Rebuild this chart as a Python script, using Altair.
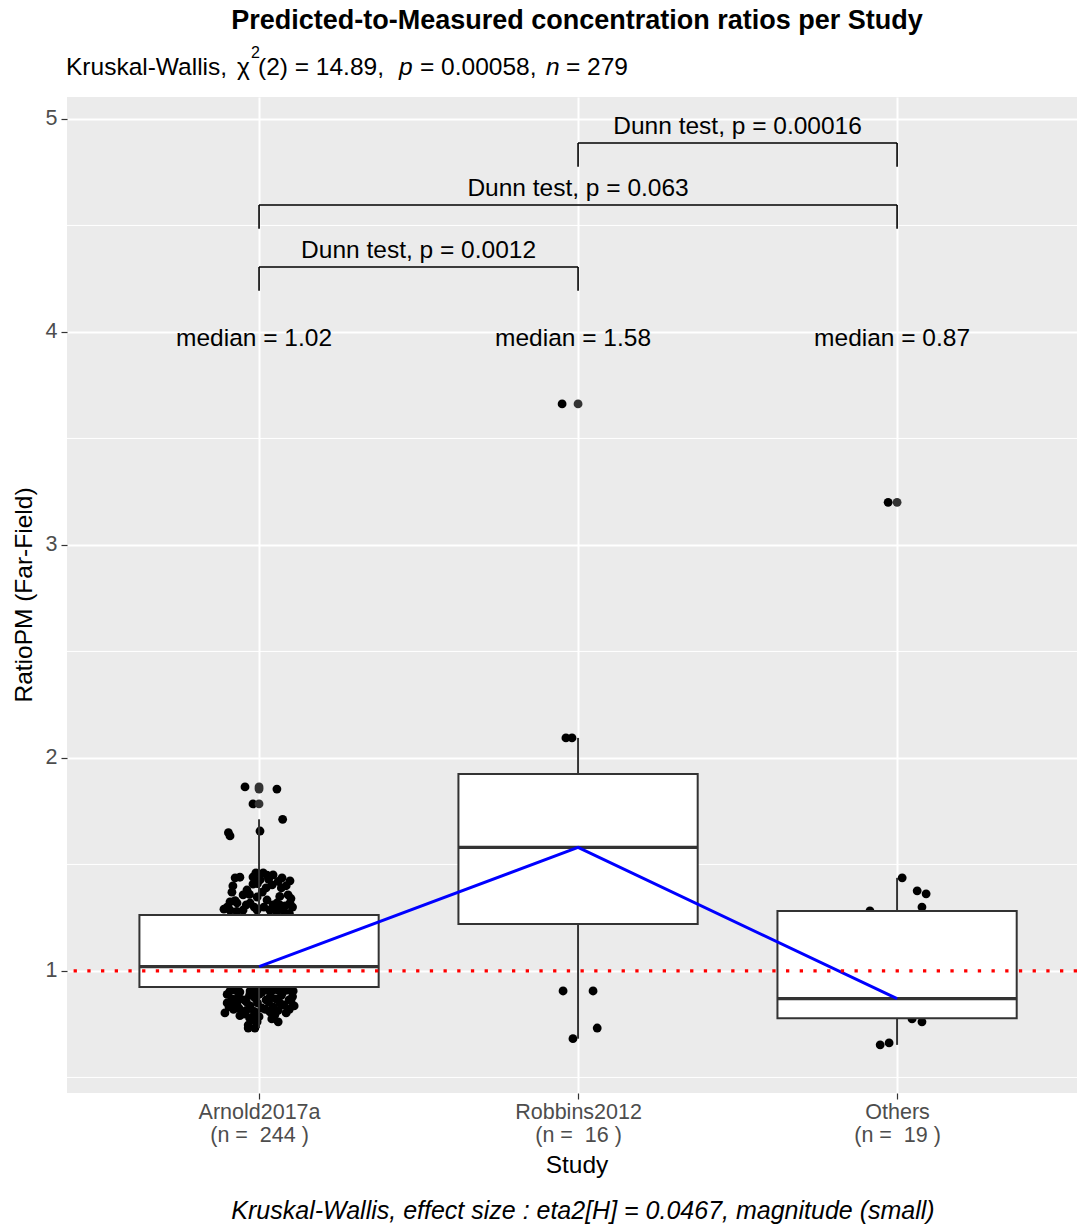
import altair as alt
import pandas as pd

# ---------------- data ----------------
studies = ["Arnold2017a", "Robbins2012", "Others"]
counts = [244, 16, 19]
medians = [1.02, 1.58, 0.87]
q1 = [0.925, 1.221, 0.778]
q3 = [1.263, 1.925, 1.282]
whisker_low = [0.732, 0.682, 0.653]
whisker_high = [1.712, 2.094, 1.437]

outlier_group = [1, 1, 1, 2, 3]
outlier_value = [1.864, 1.854, 1.784, 3.662, 3.200]

arnold_values = [1.864, 1.854, 1.784, 1.712, 1.657, 1.649, 1.634,
                 1.437, 1.399, 1.441, 1.460, 1.451, 1.437, 1.423, 1.427, 1.404, 1.408,
                 1.357, 1.324, 1.319, 1.319, 1.333, 1.319, 1.357, 1.319, 1.286, 1.286,
                 1.286, 1.286, 1.286, 1.347, 1.305, 1.310, 1.380, 1.390,
                 1.44, 1.45, 1.42, 1.40, 1.37, 1.36, 1.37, 1.35, 1.34, 1.33, 1.30, 1.31,
                 1.30, 1.30, 1.31, 1.30, 1.28, 1.28, 1.27, 1.29, 1.39, 1.41, 1.43, 1.46,
                 0.906, 0.901, 0.906, 0.901, 0.906, 0.901, 0.906, 0.869, 0.864, 0.873,
                 0.864, 0.869, 0.864, 0.831, 0.826, 0.836, 0.826, 0.831, 0.840, 0.836,
                 0.803, 0.798, 0.789, 0.808, 0.803, 0.761, 0.746, 0.761, 0.732, 0.732,
                 0.91, 0.91, 0.91, 0.91, 0.91, 0.89, 0.88, 0.885, 0.89, 0.88, 0.885, 0.88,
                 0.85, 0.85, 0.855, 0.85, 0.855, 0.85, 0.86, 0.82, 0.815, 0.81, 0.82, 0.815,
                 0.82, 0.79, 0.78, 0.785, 0.795, 0.77, 0.775, 0.845, 0.92,
                 0.95, 1.00, 1.05, 1.10, 1.15, 1.20, 0.98, 1.12]
arnold_jitter = [-0.044, 0.056, -0.019, 0.074, 0.003, -0.096, -0.091,
                 -0.075, -0.082, -0.019, 0.013, 0.044, 0.072, 0.097, 0.003, 0.041, -0.019,
                 -0.050, -0.091, -0.069, -0.028, 0.025, 0.056, 0.091, 0.097, -0.091, -0.050,
                 -0.006, 0.034, 0.075, -0.006, 0.082, 0.044, -0.038, 0.022,
                 -0.060, 0.025, 0.060, 0.085, -0.085, -0.030, 0.010, 0.065, 0.100, -0.075,
                 -0.100, -0.040, -0.015, 0.015, 0.065, 0.105, -0.070, 0.055, 0.095, -0.110,
                 0.070, -0.005, 0.030, -0.010,
                 -0.091, -0.060, -0.028, 0.009, 0.041, 0.075, 0.107, -0.085, -0.047, -0.013,
                 0.022, 0.053, 0.094, -0.094, -0.063, -0.028, 0.009, 0.044, 0.078, 0.110,
                 -0.107, -0.047, -0.016, 0.034, 0.085, 0.060, -0.034, -0.006, -0.034, -0.013,
                 -0.075, -0.010, 0.025, 0.060, 0.090, -0.100, -0.065, -0.030, 0.000, 0.035,
                 0.070, 0.105, -0.100, -0.070, -0.040, -0.005, 0.030, 0.065, 0.100, -0.080,
                 -0.040, -0.015, 0.020, 0.060, 0.095, -0.060, -0.030, 0.000, 0.050, -0.020,
                 0.040, -0.085, 0.040,
                 -0.05, 0.03, -0.08, 0.06, -0.02, 0.09, 0.10, -0.10]

robbins_values = [3.662, 2.094, 2.094, 0.906, 0.906, 0.732, 0.682,
                  1.25, 1.35, 1.45, 1.58, 1.62, 1.75, 1.85, 1.90, 1.30]
robbins_jitter = [-0.050, -0.038, -0.019, -0.047, 0.047, 0.060, -0.016,
                  0.02, -0.06, 0.08, -0.03, 0.05, -0.09, 0.04, -0.02, 0.10]

others_values = [3.200, 1.437, 1.376, 1.362, 1.300, 1.282, 0.775, 0.761, 0.653, 0.662,
                 0.80, 0.85, 0.87, 0.90, 0.95, 1.00, 1.10, 1.15, 1.20]
others_jitter = [-0.028, 0.016, 0.063, 0.091, 0.078, -0.085, 0.047, 0.078, -0.053, -0.025,
                 0.02, -0.06, 0.05, -0.10, 0.08, -0.03, 0.06, -0.08, 0.03]

bracket_from = [1, 1, 2]
bracket_to = [2, 3, 3]
bracket_y = [4.305, 4.596, 4.887]
bracket_p = ["0.0012", "0.063", "0.00016"]

title_text = "Predicted-to-Measured concentration ratios per Study"
subtitle_parts = ["Kruskal-Wallis,", "\u03c7", "2", "(2) = 14.89,", "p", "= 0.00058,", "n", "= 279"]
caption_text = "Kruskal-Wallis, effect size : eta2[H] = 0.0467, magnitude (small)"
x_title = "Study"
y_title = "RatioPM (Far-Field)"
ref_value = 1.0
median_label_y = 4.0

# ---------------- layout constants ----------------
FONT = "Liberation Sans"
W, H = 1010, 996
XDOM = [0.398, 3.564]
YDOM = [0.427, 5.103]
BOX_HALF = 0.375
TIP = 0.112
GREY = "#333333"
NBSP = "\u00a0"

# ---------------- tables ----------------
pts = pd.DataFrame({
    "group": [1] * len(arnold_values) + [2] * len(robbins_values) + [3] * len(others_values),
    "value": arnold_values + robbins_values + others_values,
    "jit": arnold_jitter + robbins_jitter + others_jitter,
})
pts["x"] = pts["group"] + pts["jit"]

box = pd.DataFrame({"g": [1, 2, 3], "q1": q1, "q3": q3, "med": medians,
                    "lo": whisker_low, "hi": whisker_high})
box["x0"] = box["g"] - BOX_HALF
box["x1"] = box["g"] + BOX_HALF
box["label"] = ["median = %.2f" % m for m in medians]
box["ly"] = median_label_y

outl = pd.DataFrame({"g": outlier_group, "v": outlier_value})

br = pd.DataFrame({"a": bracket_from, "b": bracket_to, "y": bracket_y,
                   "lab": ["Dunn test, p = " + p for p in bracket_p]})
br["ylo"] = br["y"] - TIP
br["mid"] = (br["a"] + br["b"]) / 2
tips = pd.DataFrame({"x": list(br["a"]) + list(br["b"]),
                     "y": list(br["y"]) * 2, "ylo": list(br["ylo"]) * 2})

label_expr = " : ".join(
    "datum.value == %d ? ['%s', '(n =%s %d )']" % (i + 1, s, NBSP + " ", c)
    for i, (s, c) in enumerate(zip(studies, counts))
) + " : ''"

xaxis = alt.Axis(values=[1, 2, 3], grid=True, gridColor="white", gridWidth=2,
                 domain=False, ticks=True, tickColor=GREY, tickSize=6, tickWidth=1.2,
                 labelExpr=label_expr, labelFont=FONT, labelFontSize=21.5,
                 labelColor="#4D4D4D", labelPadding=2, labelLineHeight=23,
                 labelBaseline="top", title=None)
yaxis = alt.Axis(values=[1, 2, 3, 4, 5], grid=True, gridColor="white", gridWidth=2,
                 domain=False, ticks=True, tickColor=GREY, tickSize=6, tickWidth=1.2,
                 format="d", labelFont=FONT, labelFontSize=21.5, labelColor="#4D4D4D",
                 labelPadding=4, title=None)


def X(f):
    return alt.X(f, type="quantitative", scale=alt.Scale(domain=XDOM, nice=False, zero=False), axis=xaxis)


def Y(f):
    return alt.Y(f, type="quantitative", scale=alt.Scale(domain=YDOM, nice=False, zero=False), axis=yaxis)


minor = alt.Chart(pd.DataFrame({"m": [0.5, 1.5, 2.5, 3.5, 4.5]})).mark_rule(
    color="white", strokeWidth=1).encode(y=Y("m"))

points = alt.Chart(pts).mark_circle(size=78, color="black", opacity=1).encode(x=X("x"), y=Y("value"))

whisk_up = alt.Chart(box).mark_rule(color=GREY, strokeWidth=2).encode(x=X("g"), y=Y("q3"), y2="hi")
whisk_dn = alt.Chart(box).mark_rule(color=GREY, strokeWidth=2).encode(x=X("g"), y=Y("lo"), y2="q1")
boxes = alt.Chart(box).mark_rect(fill="white", stroke=GREY, strokeWidth=2).encode(
    x=X("x0"), x2="x1", y=Y("q1"), y2="q3")
med_line = alt.Chart(box).mark_rule(color=GREY, strokeWidth=3.2).encode(x=X("x0"), x2="x1", y=Y("med"))
outliers = alt.Chart(outl).mark_circle(size=78, color=GREY, opacity=1).encode(x=X("g"), y=Y("v"))

blue = alt.Chart(box).mark_line(color="blue", strokeWidth=3).encode(x=X("g"), y=Y("med"))
red = alt.Chart(pd.DataFrame({"r": [ref_value]})).mark_rule(
    color="red", strokeWidth=3.3, strokeDash=[3.3, 10.4]).encode(y=Y("r"))

br_h = alt.Chart(br).mark_rule(color="black", strokeWidth=1.6).encode(x=X("a"), x2="b", y=Y("y"))
br_v = alt.Chart(tips).mark_rule(color="black", strokeWidth=1.6).encode(x=X("x"), y=Y("ylo"), y2="y")
br_t = alt.Chart(br).mark_text(font=FONT, fontSize=24.5, color="black", baseline="alphabetic",
                               align="center", dy=-9).encode(x=X("mid"), y=Y("y"), text="lab:N")
med_t = alt.Chart(box).mark_text(font=FONT, fontSize=24.5, color="black", baseline="alphabetic",
                                 align="center", dx=-5, dy=14).encode(x=X("g"), y=Y("ly"), text="label:N")


def free_text(txt, x, y, size, align="left", style="normal", weight="normal", angle=0, baseline="alphabetic"):
    kw = dict(font=FONT, fontSize=size, color="black", align=align, baseline=baseline,
              fontStyle=style, fontWeight=weight)
    if angle:
        kw["angle"] = angle
    return alt.Chart(pd.DataFrame({"t": [txt]})).mark_text(**kw).encode(
        text="t:N", x=alt.value(x), y=alt.value(y))


title = free_text(title_text, 510, -68, 27, align="center", weight="bold")
# x positions of the subtitle pieces (plot-area pixels)
sub_x = [-1, 170, 184, 191, 332, 353, 479, 499]
sub_layers = []
for i, part in enumerate(subtitle_parts):
    if i == 2:
        sub_layers.append(free_text(part, sub_x[i], -39, 16))
    elif i in (4, 6):
        sub_layers.append(free_text(part, sub_x[i], -22, 24.5, style="italic"))
    else:
        sub_layers.append(free_text(part, sub_x[i], -22, 24.5))
caption = free_text(caption_text, 516, 1122, 25, align="center", style="italic")
xt = free_text(x_title, 510, 1076, 24.5, align="center")
yt = free_text(y_title, -42, H / 2, 24.5, align="center", angle=270, baseline="middle")

chart = alt.layer(
    minor, points, whisk_up, whisk_dn, boxes, med_line, outliers, blue, red,
    br_h, br_v, br_t, med_t, title, *sub_layers, caption, xt, yt
).properties(
    width=W, height=H,
    autosize=alt.AutoSizeParams(type="none"),
    padding={"left": 67, "top": 97, "right": 0, "bottom": 137},
    background="white",
).configure_view(fill="#EBEBEB", strokeWidth=0)

chart.save("out.html", embed_options={"renderer": "svg", "actions": False})
